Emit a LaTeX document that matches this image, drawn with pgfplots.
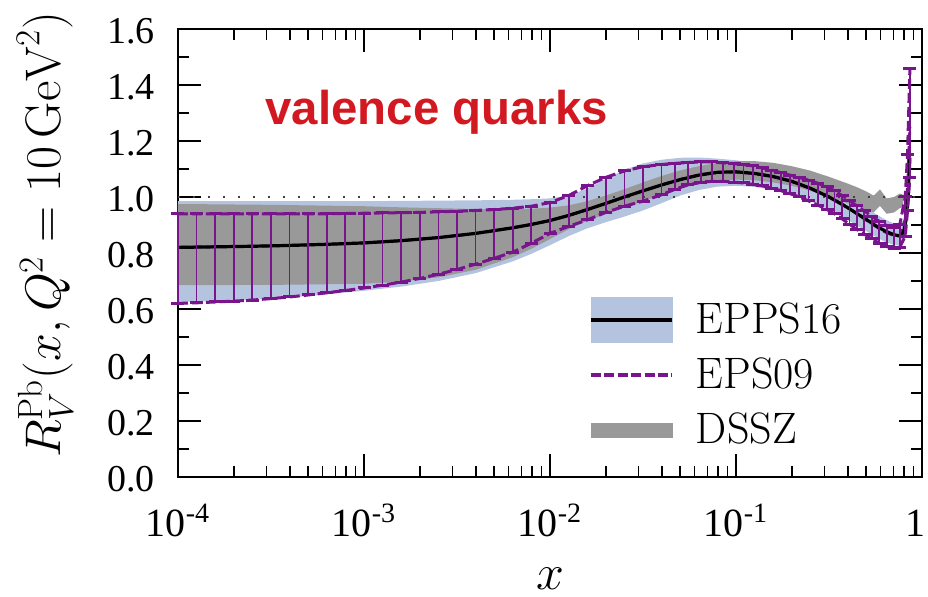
\RequirePackage{fix-cm}
\documentclass[border=0pt]{standalone}
\usepackage{fontspec}
\usepackage{pgfplots}
\usepackage{pgfplotstable}
\pgfplotsset{compat=1.18}
\usepgfplotslibrary{fillbetween}
\newfontfamily\tickfont{Liberation Serif}
\newfontfamily\annotfont{Liberation Sans}
\definecolor{eppsblue}{RGB}{181,196,222}
\definecolor{dsszgray}{RGB}{153,153,153}
\definecolor{epspurple}{RGB}{120,20,140}
\definecolor{valred}{RGB}{210,24,32}

% EPS09: lower, central, upper
\pgfplotstableread{
x L C U
1e-4 0.620 0.820 0.940
1.2589e-4 0.622 0.821 0.940
1.5849e-4 0.625 0.822 0.940
1.9953e-4 0.628 0.823 0.940
2.5119e-4 0.632 0.824 0.940
3.1623e-4 0.637 0.825 0.940
3.9811e-4 0.643 0.827 0.940
5.0119e-4 0.650 0.829 0.940
6.3096e-4 0.658 0.831 0.940
7.9433e-4 0.666 0.833 0.941
1e-3 0.675 0.836 0.942
1.2589e-3 0.685 0.840 0.943
1.5849e-3 0.696 0.844 0.944
1.9953e-3 0.709 0.849 0.945
2.5119e-3 0.724 0.855 0.947
3.1623e-3 0.741 0.862 0.949
3.9811e-3 0.760 0.870 0.952
5.0119e-3 0.781 0.879 0.955
6.3096e-3 0.803 0.890 0.960
7.9433e-3 0.835 0.902 0.967
1e-2 0.870 0.916 0.980
1.2589e-2 0.895 0.934 1.005
1.5849e-2 0.918 0.955 1.040
1.9953e-2 0.945 0.977 1.070
2.5119e-2 0.967 1.000 1.093
3.1623e-2 0.985 1.022 1.108
3.9811e-2 1.008 1.043 1.116
0.046774 1.027 1.057 1.120
0.054954 1.043 1.070 1.123
0.064565 1.052 1.080 1.125
0.074131 1.056 1.086 1.125
0.085114 1.056 1.089 1.122
0.097724 1.053 1.089 1.119
0.10965 1.050 1.087 1.116
0.12303 1.045 1.084 1.111
0.13804 1.040 1.080 1.104
0.15488 1.032 1.074 1.096
0.17378 1.023 1.066 1.087
0.19498 1.012 1.057 1.078
0.21878 1.000 1.046 1.070
0.24547 0.986 1.033 1.060
0.27542 0.971 1.019 1.049
0.30903 0.955 1.004 1.036
0.33884 0.940 0.990 1.022
0.37154 0.922 0.975 1.005
0.40738 0.903 0.958 0.987
0.44668 0.884 0.940 0.968
0.48978 0.867 0.922 0.950
0.53703 0.850 0.904 0.931
0.58884 0.835 0.887 0.913
0.64565 0.823 0.872 0.898
0.70795 0.816 0.862 0.890
0.75858 0.820 0.862 0.900
0.81283 0.860 0.920 1.000
0.83560 0.950 1.040 1.150
0.86099 1.070 1.250 1.460
}\epsdata

% EPPS16: band lower, central, band upper
\pgfplotstableread{
x L C U
1e-4 0.625 0.820 0.985
1.5849e-4 0.628 0.822 0.985
2.5119e-4 0.633 0.824 0.985
3.9811e-4 0.641 0.827 0.985
6.3096e-4 0.652 0.831 0.985
1e-3 0.665 0.836 0.985
1.5849e-3 0.680 0.844 0.986
2.5119e-3 0.700 0.855 0.987
3.9811e-3 0.728 0.870 0.988
6.3096e-3 0.770 0.890 0.990
7.9433e-3 0.797 0.902 0.992
1e-2 0.828 0.916 0.995
1.2589e-2 0.860 0.934 1.005
1.5849e-2 0.888 0.955 1.030
1.9953e-2 0.910 0.977 1.065
2.5119e-2 0.930 1.000 1.097
3.1623e-2 0.952 1.022 1.120
3.9811e-2 0.978 1.043 1.133
5.0119e-2 1.005 1.062 1.140
6.3096e-2 1.025 1.078 1.141
7.9433e-2 1.037 1.088 1.137
0.1 1.040 1.090 1.131
0.12589 1.036 1.084 1.123
0.15849 1.025 1.073 1.112
0.19953 1.008 1.056 1.095
0.25119 0.985 1.031 1.072
0.31623 0.955 1.000 1.042
0.39811 0.918 0.962 1.005
0.50119 0.878 0.920 0.962
0.56234 0.858 0.898 0.940
0.63096 0.840 0.879 0.920
0.70795 0.828 0.865 0.905
0.75858 0.826 0.861 0.900
0.79433 0.838 0.873 0.918
0.82224 0.880 0.920 0.975
0.84140 0.950 1.000 1.080
0.86099 1.060 1.140 1.280
}\eppsdata

% DSSZ band
\pgfplotstableread{
x L U
1e-4 0.685 0.975
3.1623e-4 0.686 0.972
1e-3 0.690 0.967
1.5849e-3 0.698 0.963
2.5119e-3 0.713 0.960
3.9811e-3 0.740 0.957
6.3096e-3 0.785 0.957
7.9433e-3 0.815 0.958
1e-2 0.850 0.962
1.2589e-2 0.885 0.970
1.5849e-2 0.915 0.985
1.9953e-2 0.940 1.005
2.5119e-2 0.962 1.028
3.1623e-2 0.985 1.052
3.9811e-2 1.008 1.075
5.0119e-2 1.030 1.095
6.3096e-2 1.047 1.110
7.9433e-2 1.057 1.122
0.1 1.062 1.128
0.12589 1.060 1.128
0.15849 1.052 1.122
0.19953 1.040 1.110
0.25119 1.022 1.094
0.31623 1.000 1.072
0.39811 0.978 1.048
0.44668 0.967 1.035
0.50119 0.955 1.020
0.54954 0.945 1.005
0.59429 0.968 1.027
0.64565 0.940 0.995
0.70795 0.945 1.000
0.75858 0.960 1.012
0.79433 0.965 1.008
}\dsszdata

\begin{document}
\begin{tikzpicture}
\begin{axis}[
  name=ax,
  scale only axis,
  width=372pt, height=224pt,
  xmode=log,
  xmin=1e-4, xmax=1, ymin=0, ymax=1.6,
  clip=false,
  axis line style={line width=0.6pt},
  tick style={black, line width=0.6pt},
  major tick length=11.5pt,
  minor tick length=5.5pt,
  xtick={1e-4,1e-3,1e-2,1e-1,1},
  xticklabels={10\textsuperscript{-4},10\textsuperscript{-3},10\textsuperscript{-2},10\textsuperscript{-1},\makebox[0pt][r]{1\hspace{-1.5pt}}},
  xticklabel style={font=\tickfont\fontsize{20}{24}\selectfont, anchor=base, inner sep=0pt, yshift=-30pt},
  ytick={0,0.2,...,1.6},
  minor y tick num=1,
  yticklabel style={font=\tickfont\fontsize{19}{23}\selectfont, anchor=east, inner sep=0pt, xshift=-11.5pt, yshift=-1pt,
    /pgf/number format/.cd, fixed, fixed zerofill, precision=1, assume math mode=true},
  xlabel={$x$},
  every axis x label/.style={at={([yshift=-51pt]rel axis cs:0.5,0)}, anchor=center, inner sep=0pt, font=\fontsize{25}{30}\selectfont},
  ylabel={$R_V^{\mathrm{Pb}}(x,Q^2=10\,\mathrm{GeV}^2)$},
  every axis y label/.style={at={([xshift=-66.5pt,yshift=9pt]rel axis cs:0,0.5)}, anchor=center, rotate=90, font=\fontsize{25}{30}\selectfont},
  legend cell align=left,
  legend style={at={(rel axis cs:0.5524,0.0435)}, anchor=south west, draw=none, fill=none,
    inner sep=0pt, outer sep=0pt, row sep=0pt, column sep=11pt,
    font=\fontsize{22}{26}\selectfont, nodes={inner sep=0pt, outer sep=0pt}},
]
% EPPS16 band
\addplot[draw=none, name path=eppsU, forget plot] table[x=x, y=U] {\eppsdata};
\addplot[draw=none, name path=eppsL, forget plot] table[x=x, y=L] {\eppsdata};
\addplot[fill=eppsblue, draw=none, forget plot] fill between[of=eppsU and eppsL];
% DSSZ band
\addplot[draw=none, name path=dsszU, forget plot] table[x=x, y=U] {\dsszdata};
\addplot[draw=none, name path=dsszL, forget plot] table[x=x, y=L] {\dsszdata};
\addplot[fill=dsszgray, draw=none, forget plot] fill between[of=dsszU and dsszL];
% reference line
\addplot[black!75, line width=1.2pt, dash pattern=on 1.2pt off 6.3pt, forget plot] coordinates {(1e-4,1) (1,1)};
% EPS09 central
\addplot[epspurple, line width=1.4pt, dash pattern=on 5pt off 2pt, forget plot] table[x=x, y=C] {\epsdata};
% EPPS16 central
\addplot[black, line width=1.6pt, forget plot] table[x=x, y=C] {\eppsdata};
% EPS09 band edges
\addplot[epspurple, line width=1.5pt, dash pattern=on 5pt off 2pt, forget plot] table[x=x, y=U] {\epsdata};
\addplot[epspurple, line width=1.5pt, dash pattern=on 5pt off 2pt, forget plot] table[x=x, y=L] {\epsdata};
% EPS09 error bars
\addplot[draw=none, mark=none, forget plot,
  error bars/.cd, y dir=both, y explicit,
  error bar style={draw=epspurple, line width=0.9pt, solid},
  error mark options={draw=epspurple, line width=1.5pt, mark size=3.25pt, solid, rotate=90}]
  table[x=x, y=C, y error plus expr=\thisrow{U}-\thisrow{C}, y error minus expr=\thisrow{C}-\thisrow{L}] {\epsdata};

\addlegendimage{legend image code/.code={
  \path[draw=none, fill=none] (0pt,-13.75pt) rectangle (40.5pt,13.75pt);
  \fill[eppsblue] (0pt,-11.25pt) rectangle (40.5pt,11.25pt);
  \draw[black, line width=2pt] (0pt,0pt) -- (40.5pt,0pt);}}
\addlegendentry{EPPS16}
\addlegendimage{legend image code/.code={
  \path[draw=none, fill=none] (0pt,-13.75pt) rectangle (40.5pt,13.75pt);
  \draw[epspurple, line width=2pt, dash pattern=on 5pt off 1.7pt] (0pt,0pt) -- (40.5pt,0pt);}}
\addlegendentry{EPS09}
\addlegendimage{legend image code/.code={
  \path[draw=none, fill=none] (0pt,-13.75pt) rectangle (40.5pt,13.75pt);
  \fill[dsszgray] (0pt,-3.5pt) rectangle (40.5pt,3.5pt);}}
\addlegendentry{DSSZ}

\node[anchor=base west, inner sep=0pt, text=valred, font=\annotfont\bfseries\fontsize{23.7}{28}\selectfont]
  at (rel axis cs:0.117,0.786) {valence quarks};
\end{axis}
\pgfresetboundingbox
\path ([shift={(-89pt,-60pt)}]ax.south west) rectangle ([shift={(3pt,14.5pt)}]ax.north east);
\end{tikzpicture}
\end{document}
